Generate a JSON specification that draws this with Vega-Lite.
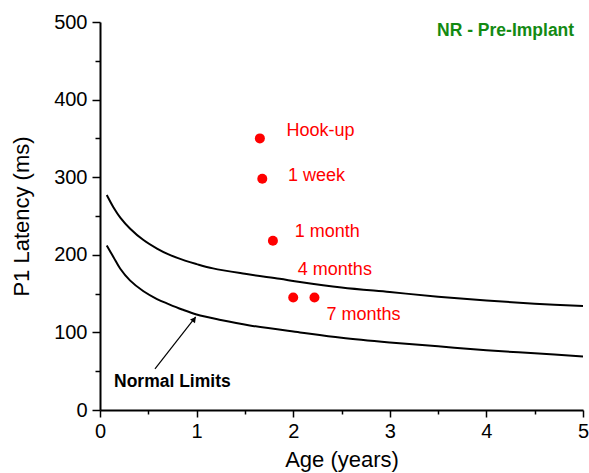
{
  "$schema": "https://vega.github.io/schema/vega-lite/v6.json",
  "width": 483,
  "height": 388,
  "autosize": {"type": "none"},
  "padding": {"left": 100, "top": 22, "right": 6, "bottom": 63},
  "background": "white",
  "config": {
    "view": {"stroke": null},
    "font": "Liberation Sans",
    "axis": {"grid": false, "domainColor": "black", "domainWidth": 2, "tickColor": "black", "tickWidth": 1.5, "labelColor": "black", "titleColor": "black", "labelFont": "Liberation Sans", "titleFont": "Liberation Sans", "labelFontSize": 20, "titleFontSize": 22, "titleFontWeight": "normal"}
  },
  "datasets": {
    "curves": [
      {"age": 0.07, "latency": 277, "limit": "upper"},
      {"age": 0.14, "latency": 261, "limit": "upper"},
      {"age": 0.21, "latency": 248, "limit": "upper"},
      {"age": 0.31, "latency": 234, "limit": "upper"},
      {"age": 0.45, "latency": 219, "limit": "upper"},
      {"age": 0.59, "latency": 208, "limit": "upper"},
      {"age": 0.71, "latency": 200.5, "limit": "upper"},
      {"age": 0.88, "latency": 192.5, "limit": "upper"},
      {"age": 1.0, "latency": 188, "limit": "upper"},
      {"age": 1.17, "latency": 182.5, "limit": "upper"},
      {"age": 1.5, "latency": 175.5, "limit": "upper"},
      {"age": 1.86, "latency": 169, "limit": "upper"},
      {"age": 2.07, "latency": 165, "limit": "upper"},
      {"age": 2.5, "latency": 158, "limit": "upper"},
      {"age": 3, "latency": 152, "limit": "upper"},
      {"age": 3.5, "latency": 146, "limit": "upper"},
      {"age": 4, "latency": 141, "limit": "upper"},
      {"age": 4.5, "latency": 137, "limit": "upper"},
      {"age": 5, "latency": 134, "limit": "upper"},
      {"age": 0.07, "latency": 212, "limit": "lower"},
      {"age": 0.14, "latency": 197, "limit": "lower"},
      {"age": 0.21, "latency": 182, "limit": "lower"},
      {"age": 0.31, "latency": 167, "limit": "lower"},
      {"age": 0.45, "latency": 153, "limit": "lower"},
      {"age": 0.59, "latency": 143, "limit": "lower"},
      {"age": 0.71, "latency": 136.5, "limit": "lower"},
      {"age": 0.85, "latency": 129.5, "limit": "lower"},
      {"age": 1.0, "latency": 123, "limit": "lower"},
      {"age": 1.25, "latency": 116, "limit": "lower"},
      {"age": 1.55, "latency": 109, "limit": "lower"},
      {"age": 2.07, "latency": 100, "limit": "lower"},
      {"age": 2.5, "latency": 93, "limit": "lower"},
      {"age": 3, "latency": 87, "limit": "lower"},
      {"age": 3.5, "latency": 82, "limit": "lower"},
      {"age": 4, "latency": 77, "limit": "lower"},
      {"age": 4.5, "latency": 73, "limit": "lower"},
      {"age": 5, "latency": 69, "limit": "lower"}
    ],
    "points": [
      {"age": 1.655, "latency": 350, "visit": "Hook-up"},
      {"age": 1.68, "latency": 298, "visit": "1 week"},
      {"age": 1.79, "latency": 218, "visit": "1 month"},
      {"age": 2.0, "latency": 145, "visit": "4 months"},
      {"age": 2.22, "latency": 145, "visit": "7 months"}
    ],
    "labels": [
      {"age": 1.931, "latency": 360, "text": "Hook-up"},
      {"age": 1.945, "latency": 301, "text": "1 week"},
      {"age": 2.017, "latency": 230, "text": "1 month"},
      {"age": 2.048, "latency": 180, "text": "4 months"},
      {"age": 2.345, "latency": 122, "text": "7 months"}
    ],
    "arrow": [
      {"age": 0.569, "latency": 53, "age2": 0.99, "latency2": 120}
    ],
    "arrowhead": [
      {"age": 0.975, "latency": 117}
    ],
    "notes": [
      {"age": 0.145, "latency": 35.6, "text": "Normal Limits"}
    ],
    "title": [
      {"age": 3.489, "latency": 488, "text": "NR - Pre-Implant"}
    ]
  },
  "encoding": {
    "x": {"field": "age", "type": "quantitative", "scale": {"domain": [0, 5], "nice": false, "zero": false},
      "axis": {"title": "Age (years)", "values": [0, 0.5, 1, 1.5, 2, 2.5, 3, 3.5, 4, 4.5, 5], "labelExpr": "datum.value % 1 == 0 ? format(datum.value, 'd') : ''", "tickSize": {"condition": {"test": "datum.value % 1 == 0", "value": 7}, "value": 4}, "labelPadding": 4, "titlePadding": 8, "labelFlush": false}},
    "y": {"field": "latency", "type": "quantitative", "scale": {"domain": [0, 500], "nice": false},
      "axis": {"title": "P1 Latency (ms)", "values": [0, 50, 100, 150, 200, 250, 300, 350, 400, 450, 500], "labelExpr": "datum.value % 100 == 0 ? format(datum.value, 'd') : ''", "tickSize": {"condition": {"test": "datum.value % 100 == 0", "value": 8}, "value": 5}, "labelPadding": 5, "titlePadding": 20, "labelFlush": false}}
  },
  "layer": [
    {
      "data": {"name": "curves"},
      "mark": {"type": "line", "color": "black", "strokeWidth": 2, "interpolate": "catmull-rom"},
      "encoding": {"detail": {"field": "limit"}}
    },
    {
      "data": {"name": "arrow"},
      "mark": {"type": "rule", "color": "black", "strokeWidth": 1.2},
      "encoding": {"x2": {"field": "age2"}, "y2": {"field": "latency2"}}
    },
    {
      "data": {"name": "arrowhead"},
      "mark": {"type": "point", "shape": "triangle-up", "angle": 38, "filled": true, "color": "black", "size": 40, "opacity": 1}
    },
    {
      "data": {"name": "points"},
      "mark": {"type": "circle", "color": "#ff0000", "size": 100, "opacity": 1}
    },
    {
      "data": {"name": "labels"},
      "mark": {"type": "text", "color": "#ff0000", "fontSize": 18, "align": "left", "baseline": "middle", "font": "Liberation Sans"},
      "encoding": {"text": {"field": "text"}}
    },
    {
      "data": {"name": "notes"},
      "mark": {"type": "text", "color": "black", "fontSize": 17.5, "fontWeight": "bold", "align": "left", "baseline": "middle", "font": "Liberation Sans"},
      "encoding": {"text": {"field": "text"}}
    },
    {
      "data": {"name": "title"},
      "mark": {"type": "text", "color": "#138a13", "fontSize": 17.5, "fontWeight": "bold", "align": "left", "baseline": "middle", "font": "Liberation Sans"},
      "encoding": {"text": {"field": "text"}}
    }
  ]
}
